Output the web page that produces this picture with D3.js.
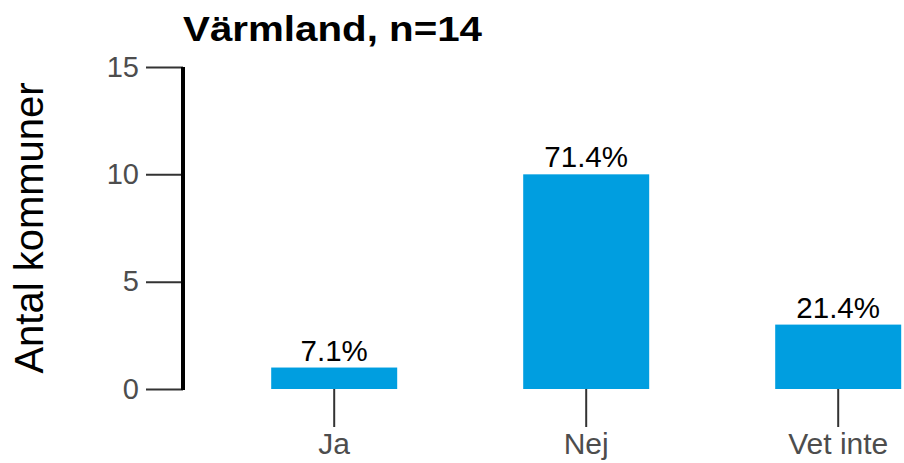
<!DOCTYPE html>
<html>
<head>
<meta charset="UTF-8">
<script src="https://d3js.org/d3.v7.min.js"></script>
<style>
  body { margin: 0; background: #fff; }
  text { font-family: "Liberation Sans", Arial, sans-serif; }
</style>
</head>
<body>
<div id="chart"></div>
<script>
// data
var categories = ["Ja", "Nej", "Vet inte"];
var counts = [1, 10, 3];
var pctLabels = ["7.1%", "71.4%", "21.4%"];
var yTicks = [0, 5, 10, 15];
var title = "Värmland, n=14";
var yTitle = "Antal kommuner";

var W = 904, H = 463;
var svg = d3.select("#chart").append("svg")
    .attr("width", W)
    .attr("height", H);

// panel runs off the right edge like the original crop
var x = d3.scaleBand()
    .domain(categories)
    .range([183, 183 + 3.2 * 252])
    .paddingInner(0.5)
    .paddingOuter(0.35);

var y = d3.scaleLinear()
    .domain([0, 15])
    .range([389, 67]);

// bars
svg.selectAll("rect.bar")
    .data(counts)
    .enter().append("rect")
    .attr("class", "bar")
    .attr("x", function(d, i) { return x(categories[i]); })
    .attr("width", x.bandwidth())
    .attr("y", function(d) { return y(d); })
    .attr("height", function(d) { return y(0) - y(d); })
    .attr("fill", "#009ee0");

// percent labels above bars
svg.selectAll("text.pct")
    .data(counts)
    .enter().append("text")
    .attr("class", "pct")
    .attr("x", function(d, i) { return x(categories[i]) + x.bandwidth() / 2; })
    .attr("y", function(d) { return y(d) - 7; })
    .attr("text-anchor", "middle")
    .attr("font-size", "29.5px")
    .attr("fill", "#000")
    .text(function(d, i) { return pctLabels[i]; });

// y axis
var yAxis = svg.append("g")
    .attr("transform", "translate(183,0)")
    .call(d3.axisLeft(y).tickValues(yTicks).tickSize(37).tickPadding(7));
yAxis.select(".domain").remove();
yAxis.selectAll(".tick line").attr("stroke", "#333").attr("stroke-width", 2);
yAxis.selectAll(".tick text")
    .attr("font-size", "29px")
    .attr("font-family", "Liberation Sans, Arial, sans-serif")
    .attr("fill", "#4d4d4d");
svg.append("line")
    .attr("x1", 183).attr("x2", 183)
    .attr("y1", y(15)).attr("y2", y(0) + 1)
    .attr("stroke", "#000")
    .attr("stroke-width", 4);

// x axis (ticks only, no line)
var xAxis = svg.append("g")
    .attr("transform", "translate(0," + y(0) + ")")
    .call(d3.axisBottom(x).tickSize(38).tickPadding(6));
xAxis.select(".domain").remove();
xAxis.selectAll(".tick line").attr("stroke", "#333").attr("stroke-width", 2);
xAxis.selectAll(".tick text")
    .attr("font-size", "30px")
    .attr("font-family", "Liberation Sans, Arial, sans-serif")
    .attr("fill", "#4d4d4d");

// axis title
svg.append("text")
    .attr("transform", "translate(43," + (y(0) + y(15)) / 2 + ") rotate(-90)")
    .attr("text-anchor", "middle")
    .attr("font-size", "40px")
    .attr("fill", "#000")
    .text(yTitle);

// chart title (glyphs in the original are a bit wider than plain Arial bold)
svg.append("text")
    .attr("x", 183)
    .attr("y", 41)
    .attr("font-size", "35px")
    .attr("font-weight", "bold")
    .attr("textLength", 299)
    .attr("lengthAdjust", "spacingAndGlyphs")
    .attr("fill", "#000")
    .text(title);
</script>
</body>
</html>
